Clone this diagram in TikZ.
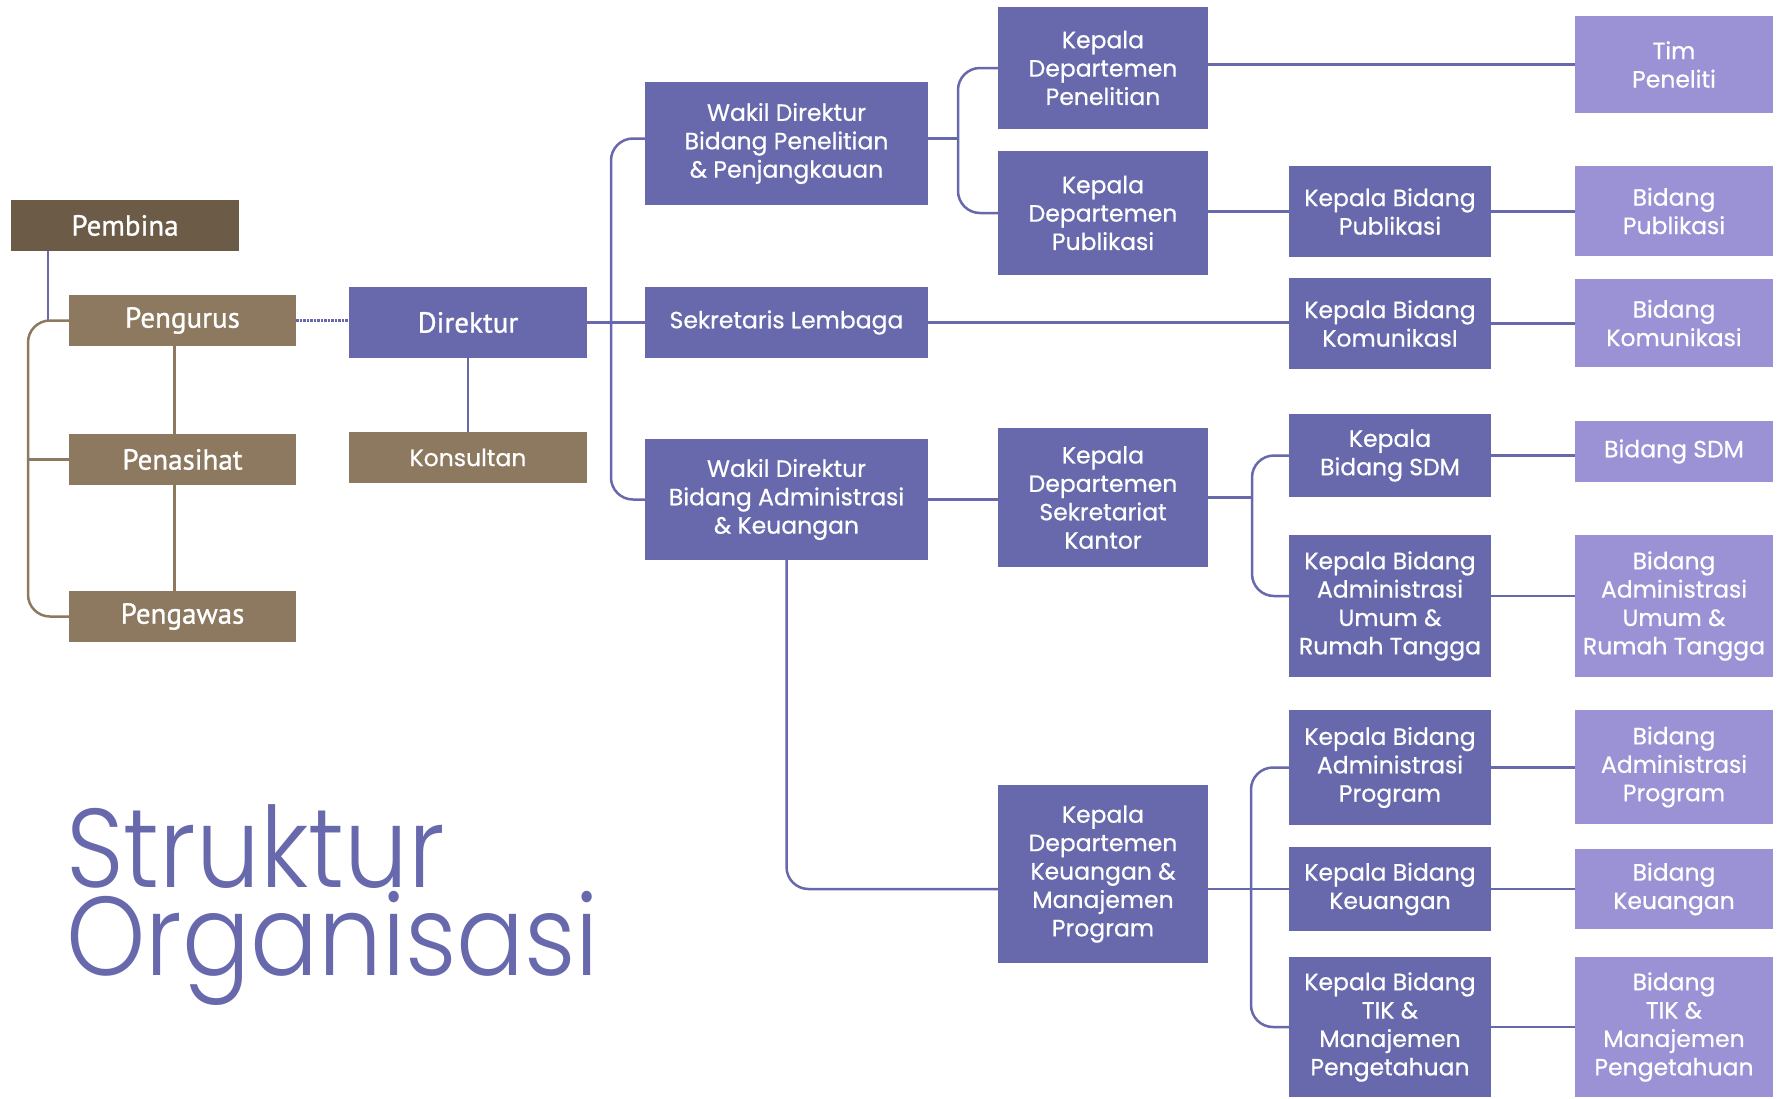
\documentclass[tikz,border=0pt]{standalone}
\usepackage{fontspec}
\setmainfont{Poppins}
\newfontfamily\boxfont{Poppins}[FakeBold=0.6]
\newfontfamily\narrowfont{PT Sans}[FakeBold=1]
\newfontfamily\judulfont{Poppins Light}[FakeStretch=0.9]

\definecolor{ungu}{HTML}{6869AC}
\definecolor{unguMuda}{HTML}{9A92D5}
\definecolor{coklat}{HTML}{8D7860}
\definecolor{coklatTua}{HTML}{6B5B47}

\begin{document}
\begin{tikzpicture}[x=1pt,y=-1pt]

\tikzset{wh/.style 2 args = {minimum width=#1, minimum height=#2}}
\tikzset{box/.style = {shape=rectangle, fill=ungu, text=white, inner sep=0pt, align=center, font=\boxfont\fontsize{23.5}{28.4}\selectfont}}
\tikzset{subbox/.style = {box, fill=unguMuda}}
\tikzset{dewan/.style = {box, fill=coklat, font=\narrowfont\fontsize{29}{34}\selectfont}}
\tikzset{judul/.style = {text=ungu, inner sep=0pt, align=left, anchor=base west, font=\judulfont\fontsize{112}{88}\selectfont}}
\tikzset{edge/.style = {draw=ungu, line width=2.5pt, rounded corners=22pt}}
\tikzset{brownedge/.style = {edge, draw=coklat}}

\useasboundingbox (0,0) rectangle (1782,1098);

%dewan
\node[dewan, fill=coklatTua, wh={228pt}{51pt}] (pembina) at (125,225.5) {Pembina};
\node[dewan, wh={227pt}{51pt}] (pengurus) at (182.5,320.5) {Pengurus};
\node[dewan, wh={227pt}{51pt}] (penasihat) at (182.5,459.5) {Penasihat};
\node[dewan, wh={227pt}{51pt}] (pengawas) at (182.5,616.5) {Pengawas};
\node[dewan, fill=ungu, wh={238pt}{71pt}] (direktur) at (468,322.5) {Direktur};
\node[box, fill=coklat, wh={238pt}{51pt}] (konsultan) at (468,457.5) {Konsultan};

%wakil direktur
\node[box, wh={283pt}{123pt}] (wakilpen) at (786.5,143.5) {Wakil Direktur\\Bidang Penelitian\\\& Penjangkauan};
\node[box, wh={283pt}{71pt}] (sekretaris) at (786.5,322.5) {Sekretaris Lembaga};
\node[box, wh={283pt}{121pt}] (wakiladm) at (786.5,499.5) {Wakil Direktur\\Bidang Administrasi\\\& Keuangan};

%kepala departemen
\node[box, wh={210pt}{122pt}] (kdpen) at (1103,68) {Kepala\\Departemen\\Penelitian};
\node[box, wh={210pt}{124pt}] (kdpub) at (1103,213) {Kepala\\Departemen\\Publikasi};
\node[box, wh={210pt}{139pt}] (kdsek) at (1103,497.5) {Kepala\\Departemen\\Sekretariat\\Kantor};
\node[box, wh={210pt}{178pt}] (kdkeu) at (1103,874) {Kepala\\Departemen\\Keuangan \&\\Manajemen\\Program};

%kepala bidang
\node[box, wh={202pt}{91pt}] (kbpub) at (1390,211.5) {Kepala Bidang\\Publikasi};
\node[box, wh={202pt}{91pt}] (kbkom) at (1390,323.5) {Kepala Bidang\\KomunikasI};
\node[box, wh={202pt}{83pt}] (kbsdm) at (1390,455.5) {Kepala\\Bidang SDM};
\node[box, wh={202pt}{142pt}] (kbumum) at (1390,606) {Kepala Bidang\\Administrasi\\Umum \&\\Rumah Tangga};
\node[box, wh={202pt}{115pt}] (kbprog) at (1390,767.5) {Kepala Bidang\\Administrasi\\Program};
\node[box, wh={202pt}{84pt}] (kbkeu) at (1390,889) {Kepala Bidang\\Keuangan};
\node[box, wh={202pt}{140pt}] (kbtik) at (1390,1027) {Kepala Bidang\\TIK \&\\Manajemen\\Pengetahuan};

%bidang
\node[subbox, wh={198pt}{97pt}] (tim) at (1674,64.5) {Tim\\Peneliti};
\node[subbox, wh={198pt}{90pt}] (bpub) at (1674,211) {Bidang\\Publikasi};
\node[subbox, wh={198pt}{88pt}] (bkom) at (1674,323) {Bidang\\Komunikasi};
\node[subbox, wh={198pt}{61pt}] (bsdm) at (1674,451.5) {Bidang SDM};
\node[subbox, wh={198pt}{142pt}] (bumum) at (1674,606) {Bidang\\Administrasi\\Umum \&\\Rumah Tangga};
\node[subbox, wh={198pt}{114pt}] (bprog) at (1674,767) {Bidang\\Administrasi\\Program};
\node[subbox, wh={198pt}{80pt}] (bkeu) at (1674,889) {Bidang\\Keuangan};
\node[subbox, wh={198pt}{140pt}] (btik) at (1674,1027) {Bidang\\TIK \&\\Manajemen\\Pengetahuan};

%judul
\node[judul] (judul) at (66,975) {Struktur\\Organisasi};

%junctions
\coordinate (jdewan) at (28,459.5);
\coordinate (jdir) at (611,322.5);
\coordinate (jpen) at (958,138.5);
\coordinate (jsek) at (1252,497.5);
\coordinate (jkeu) at (1251,889);

%lines dewan
\draw[edge] ([xshift=-77pt]pembina.south) -- ([xshift=-77pt]pembina.south |- pengurus.west);
\draw[brownedge] (pengurus.west) -| (jdewan) |- (pengawas.west);
\draw[brownedge] (penasihat.west) -- (jdewan);
\draw[brownedge] ([xshift=-8pt]pengurus.south) -- ([xshift=-8pt]penasihat.north);
\draw[brownedge] ([xshift=-8pt]penasihat.south) -- ([xshift=-8pt]pengawas.north);
\draw[edge, densely dotted] (pengurus.east) -- (pengurus.east -| direktur.west);
\draw[edge] (direktur) -- (konsultan);

%lines direktur
\draw[edge] (direktur) -- (sekretaris);
\draw[edge] ([yshift=5pt]wakilpen.west) -| (jdir) |- (wakiladm.west);
\draw[edge] ([yshift=5pt]wakilpen.east) -- (jpen);
\draw[edge] (kdpen.west) -| (jpen) |- (kdpub.west);
\draw[edge] (wakiladm.east) -- (wakiladm.east -| kdsek.west);
\draw[edge] (wakiladm.south) |- (kdkeu.west |- kbkeu);

%lines kepala departemen
\draw[edge] (kdpen.east |- tim) -- (tim.west);
\draw[edge] (kdpub.east |- kbpub) -- (kbpub.west);
\draw[edge] (sekretaris.east) -- (sekretaris.east -| kbkom.west);
\draw[edge] (kdsek.east) -- (jsek);
\draw[edge] (kbsdm.west) -| (jsek) |- ([yshift=10pt]kbumum.west);
\draw[edge] (kdkeu.east |- kbkeu) -- (kbkeu.west);
\draw[edge] (kbprog.west) -| (jkeu) |- (kbtik.west);

%lines kepala bidang
\draw[edge] (kbpub.east) -- (kbpub.east -| bpub.west);
\draw[edge] (kbkom.east) -- (kbkom.east -| bkom.west);
\draw[edge] (kbsdm.east) -- (kbsdm.east -| bsdm.west);
\draw[edge] ([yshift=10pt]kbumum.east) -- ([yshift=10pt]kbumum.east -| bumum.west);
\draw[edge] (kbprog.east) -- (kbprog.east -| bprog.west);
\draw[edge] (kbkeu.east) -- (kbkeu.east -| bkeu.west);
\draw[edge] (kbtik.east) -- (kbtik.east -| btik.west);

\end{tikzpicture}
\end{document}
